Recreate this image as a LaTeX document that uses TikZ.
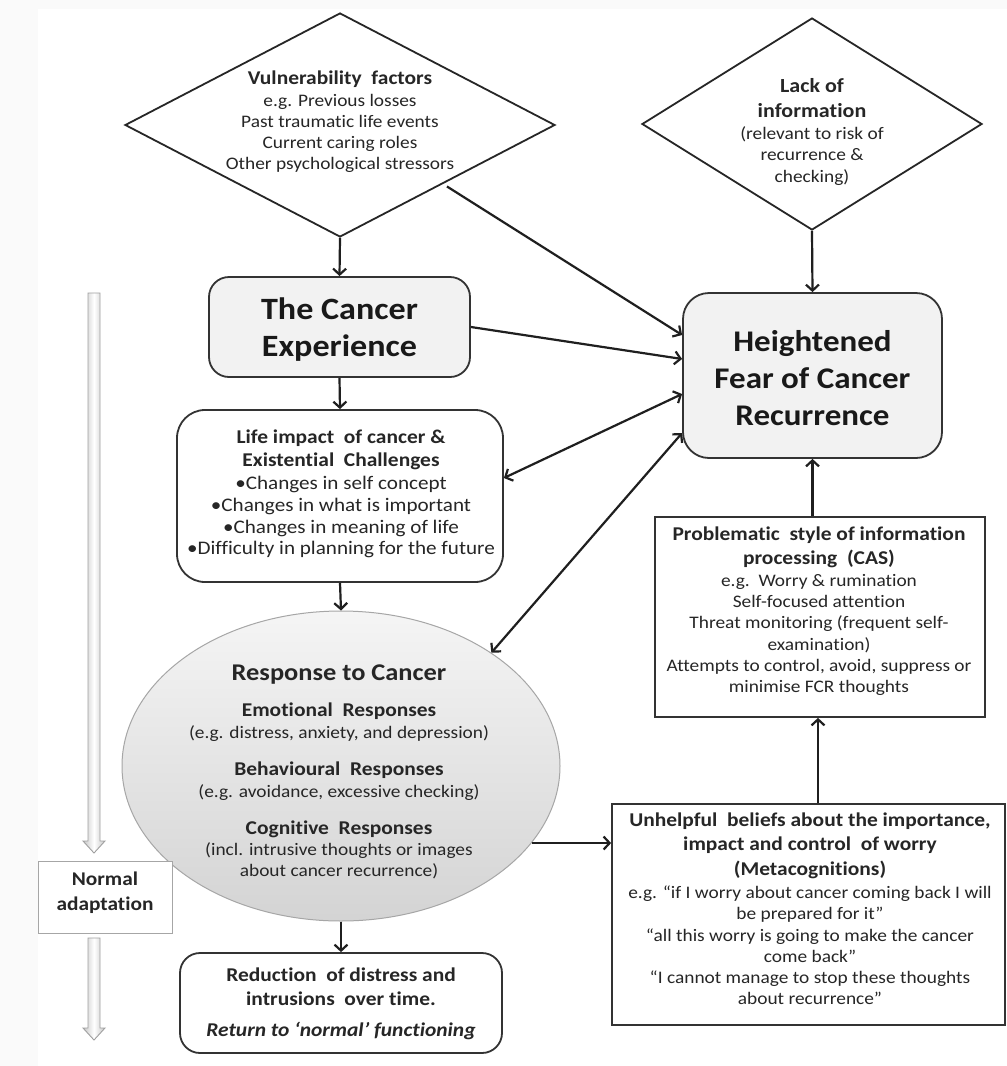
\documentclass[tikz,border=0pt]{standalone}
\usepackage{fontspec}
\setmainfont{Carlito}[FakeStretch=1.1, Ligatures=NoCommon]
\usetikzlibrary{arrows.meta,shapes.geometric,calc}
% line styles for the text blocks
\newcommand{\bodysize}{\fontsize{17.6pt}{21.3pt}\selectfont\mdseries}
\newcommand{\hd}{\fontsize{19.5pt}{23.5pt}\selectfont\bfseries}

\begin{document}
\begin{tikzpicture}[x=1pt,y=-1pt,
  txt/.style={font=\bodysize, align=center, inner sep=0pt, text=black!85},
  bigtxt/.style={font=\fontsize{30pt}{37pt}\selectfont\bfseries, align=center, inner sep=0pt, text=black!90},
  diam/.style={diamond, draw=black!85, line width=1.8pt, inner sep=0pt},
  rbox/.style={draw=black!80, line width=1.8pt, rounded corners=#1, inner sep=0pt},
  sbox/.style={draw=black!80, line width=1.8pt, inner sep=0pt},
  conn/.style={line width=2.2pt, draw=black!88, -{Straight Barb[length=6pt,width=13pt]}},
  dconn/.style={line width=2.2pt, draw=black!88, {Straight Barb[length=6pt,width=13pt]}-{Straight Barb[length=6pt,width=13pt]}},
  timeflow/.style={draw=gray!75, line width=0.9pt, left color=gray!45, right color=gray!45, middle color=white}
]
% page and margins
\fill[gray!4] (0,0) rectangle (1007,1066);
\fill[white] (38,9) rectangle (1007,1066);
\useasboundingbox (0,0) rectangle (1007,1066);

% ---------- top diamonds ----------
\node[diam, minimum width=430pt, minimum height=224pt] (vuln) at (340,125) {};
\node[txt] (vulntext) at (340,122) {\hd Vulnerability\ \ factors\\ e.g. Previous losses\\ Past traumatic life events\\ Current caring roles\\ Other psychological stressors};

\node[diam, minimum width=340pt, minimum height=212pt] (lack) at (812,124) {};
\node[txt] (lacktext) at (812,132) {\fontsize{20pt}{24pt}\selectfont\bfseries Lack of\\[3pt] \fontsize{20pt}{24pt}\selectfont\bfseries information\\[1pt] (relevant to risk of\\ recurrence \&\\ checking)};

% ---------- central boxes ----------
\node[rbox=20pt, fill=gray!10, minimum width=261pt, minimum height=100pt] (cancer) at (339.5,327) {};
\node[bigtxt, font=\fontsize{31pt}{37pt}\selectfont\bfseries] (cancertext) at (339.5,330) {The Cancer\\ Experience};

\node[rbox=26pt, fill=gray!10, minimum width=259pt, minimum height=165pt] (fcr) at (812.5,375.5) {};
\node[bigtxt] (fcrtext) at (812.5,378.5) {Heightened\\ Fear of Cancer\\ Recurrence};

\node[rbox=28pt, fill=white, minimum width=326pt, minimum height=172pt] (life) at (340,496) {};
\node[txt, font=\fontsize{19.2pt}{21.5pt}\selectfont] (lifetext) at (341,494) {\hd Life impact\ \ of cancer \&\\[2pt] \hd Existential\ \ Challenges\\[1pt] •Changes in self concept\\[1pt] •Changes in what is important\\ •Changes in meaning of life\\ •Difficulty in planning for the future};

\node[sbox, fill=white, minimum width=330pt, minimum height=200pt] (cas) at (820,617) {};
\node[txt] (castext) at (819,611.5) {\hd Problematic\ \ style of information\\[2pt] \hd processing\ \ (CAS)\\[1pt] e.g.\ \ Worry \& rumination\\ Self-focused attention\\ Threat monitoring (frequent self-\\ examination)\\ Attempts to control, avoid, suppress or\\ minimise FCR thoughts};

% ---------- response ellipse ----------
\node[ellipse, draw=gray!70, line width=1pt, top color=gray!8, bottom color=gray!34,
      minimum width=438pt, minimum height=310pt, inner sep=0pt] (resp) at (341,766) {};
\node[txt] (resptext) at (339,772) {\fontsize{24pt}{28pt}\selectfont\bfseries Response to Cancer\\[15pt]
  \hd Emotional\ \ Responses\\ (e.g. distress, anxiety, and depression)\\[15.5pt]
  \hd Behavioural\ \ Responses\\[1.5pt] (e.g. avoidance, excessive checking)\\[15pt]
  \hd Cognitive\ \ Responses\\ (incl. intrusive thoughts or images\\ about cancer recurrence)};

\node[sbox, fill=white, minimum width=393pt, minimum height=221pt] (meta) at (808.5,914.5) {};
\node[txt] (metatext) at (810,909) {\hd Unhelpful\ \ beliefs about the importance,\\[3pt] \hd impact and control\ \ of worry\\[3pt] \hd (Metacognitions)\\[2pt]
  e.g. “if I worry about cancer coming back I will\\ be prepared for it”\\ “all this worry is going to make the cancer\\ come back”\\ “I cannot manage to stop these thoughts\\ about recurrence”};

\node[rbox=20pt, fill=white, minimum width=322pt, minimum height=100pt] (reduce) at (341,1003) {};
\node[txt, font=\fontsize{19.5pt}{24pt}\selectfont\bfseries] (reducetext) at (341,1004) {Reduction\ \ of distress and\\ intrusions\ \ over time.\\[7pt] \itshape Return to ‘normal’ functioning};

% ---------- normal adaptation timeline ----------
\node[draw=gray!70, line width=1pt, fill=white, minimum width=134pt, minimum height=72pt, inner sep=0pt] (normal) at (105,897) {};
\node[txt, font=\fontsize{19.4pt}{25pt}\selectfont\bfseries] (normaltext) at (105,893) {Normal\\ adaptation};
\path[timeflow] (88,293) -- (100,293) -- (100,841) -- (105,841) -- (94,853) -- (83,841) -- (88,841) -- cycle;
\path[timeflow] (88,938) -- (100,938) -- (100,1028) -- (105,1028) -- (94,1040) -- (83,1028) -- (88,1028) -- cycle;

% ---------- connectors ----------
\draw[conn] (vuln.south) -- (cancer.north);
\draw[conn] (lack.south) -- (fcr.north);
\draw[conn] ([xshift=-1pt,yshift=-5pt]vuln.south east) -- ([yshift=40.5pt]fcr.west);
\draw[conn] (cancer.east) -- ([yshift=16.5pt]fcr.west);
\draw[conn] (cancer.south) -- (life.north);
\draw[dconn] ([yshift=18pt]life.east) -- ([yshift=-18.5pt]fcr.west);
\draw[dconn] (resp.37) -- ([yshift=-57.5pt]fcr.west);
\draw[conn] (life.south) -- (resp.north);
\draw[conn] (resp.south) -- (reduce.north);
\draw[conn] (resp.-22) -- (resp.-22 -| meta.west);
\draw[conn] (meta.north -| 818,0) -- (cas.south -| 818,0);
\draw[conn] (cas.north -| fcr.south) -- (fcr.south);
\end{tikzpicture}
\end{document}
